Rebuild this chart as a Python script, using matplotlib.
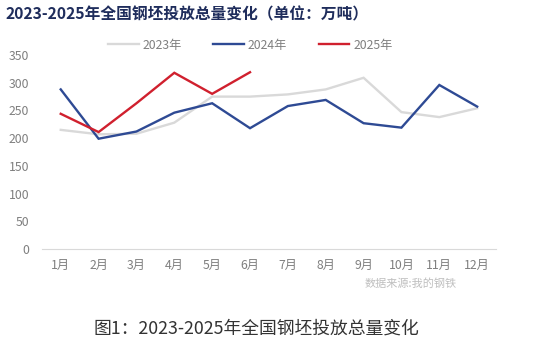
import matplotlib
matplotlib.use("Agg")
import matplotlib.pyplot as plt

plt.rcParams['font.family'] = ['Noto Sans CJK SC', 'DejaVu Sans']

months = ["1月", "2月", "3月", "4月", "5月", "6月", "7月", "8月", "9月", "10月", "11月", "12月"]
y2023 = [215, 207, 208, 228, 275, 275, 279, 288, 309, 247, 238, 254]
y2024 = [288, 199, 212, 246, 263, 218, 258, 269, 227, 219, 296, 257]
y2025 = [244, 211, 263, 318, 280, 319]
yticks = [0, 50, 100, 150, 200, 250, 300, 350]

fig = plt.figure(figsize=(5.5, 3.42), dpi=100)
ax = fig.add_axes([0.076, 0.272, 0.826, 0.567])

x = list(range(1, 13))
ax.plot(x, y2023, color="#d9d9d9", lw=1.7, label="2023年", solid_joinstyle="miter")
ax.plot(x, y2024, color="#2e4a94", lw=1.7, label="2024年", solid_joinstyle="miter")
ax.plot(x[:len(y2025)], y2025, color="#d0202e", lw=1.7, label="2025年", solid_joinstyle="miter")

ax.set_xlim(0.5, 12.5)
ax.set_ylim(0, 350)
ax.set_yticks(yticks)
ax.set_xticks(x)
ax.set_xticklabels(months)
for s in ["top", "right", "left"]:
    ax.spines[s].set_visible(False)
ax.spines["bottom"].set_color("#d9d9d9")
ax.tick_params(axis="both", length=0, colors="#7f7f7f", labelsize=8.8)
ax.tick_params(axis="y", pad=9)
ax.tick_params(axis="x", pad=7)

fig.legend(loc="center", bbox_to_anchor=(0.455, 0.868), ncol=3, frameon=False,
           fontsize=8.8, labelcolor="#7f7f7f", handlelength=2.5, columnspacing=2.6,
           handletextpad=0.3)

fig.text(0.01, 0.958, "2023-2025年全国钢坯投放总量变化（单位：万吨）", fontsize=11.3,
         fontweight="bold", color="#1f2d5c", ha="left", va="center")
fig.text(0.747, 0.172, "数据来源:我的钢铁", fontsize=8, color="#bfbfbf", ha="center", va="center")
fig.text(0.467, 0.04, "图1：2023-2025年全国钢坯投放总量变化", fontsize=12.8, color="#333333",
         ha="center", va="center")

fig.savefig("out.png", dpi=100)
